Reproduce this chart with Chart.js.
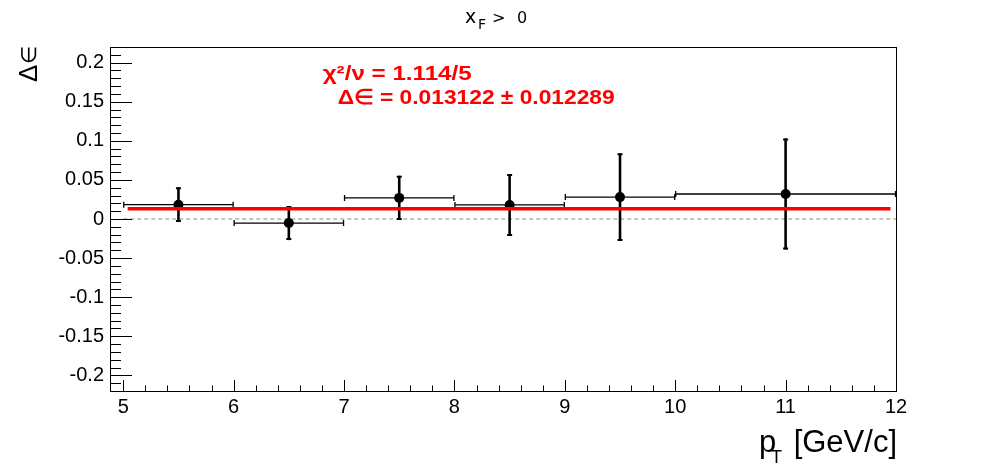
<!DOCTYPE html>
<html><head><meta charset="utf-8">
<script src="https://cdn.jsdelivr.net/npm/chart.js@4/dist/chart.umd.min.js"></script>
<style>html,body{margin:0;padding:0;background:#fff;} #wrap{width:996px;height:472px;}</style>
</head><body><div id="wrap"><canvas id="c" width="996" height="472"></canvas></div>
<script>
// ---- data ----
const binCenters = [5.5, 6.5, 7.5, 8.5, 9.5, 11];
const binLow = [5, 6, 7, 8, 9, 10];
const binHigh = [6, 7, 8, 9, 10, 12];
const deltaEps = [0.0183, -0.0052, 0.027, 0.018, 0.028, 0.032];
const deltaEpsErr = [0.0222, 0.0218, 0.0283, 0.0396, 0.056, 0.071];
const fitValue = 0.013122;
const fitError = 0.012289;
const chi2 = 1.114;
const ndf = 5;
const fitRange = [5.04, 11.95];
const zeroRange = [5, 12];
const xTicks = [5, 6, 7, 8, 9, 10, 11, 12];
const yTicks = [-0.2, -0.15, -0.1, -0.05, 0, 0.05, 0.1, 0.15, 0.2];
const xRange = [4.88, 12];
const yRange = [-0.22, 0.22];

const FONT = "'Liberation Sans', Arial, Helvetica, sans-serif";
const TFONT = "'DejaVu Sans', sans-serif";
Chart.defaults.font.family = FONT;

const errorBars = {
  id: 'errorBars',
  afterDatasetDraw(chart, args) {
    if (args.index !== 2) return;
    const ctx = chart.ctx, xs = chart.scales.x, ys = chart.scales.y;
    ctx.save();
    ctx.strokeStyle = '#000';
    ctx.lineCap = 'butt';
    for (let i = 0; i < binCenters.length; i++) {
      const px = xs.getPixelForValue(binCenters[i]);
      const py = ys.getPixelForValue(deltaEps[i]);
      const xl = xs.getPixelForValue(binLow[i]);
      const xh = xs.getPixelForValue(binHigh[i]);
      const yt = ys.getPixelForValue(deltaEps[i] + deltaEpsErr[i]);
      const yb = ys.getPixelForValue(deltaEps[i] - deltaEpsErr[i]);
      ctx.lineWidth = 1.3;
      ctx.beginPath();
      ctx.moveTo(xl, py); ctx.lineTo(xh, py);
      ctx.moveTo(xl + 0.5, py - 3); ctx.lineTo(xl + 0.5, py + 3);
      ctx.moveTo(xh - 0.5, py - 3); ctx.lineTo(xh - 0.5, py + 3);
      ctx.stroke();
      ctx.lineWidth = 2.6;
      ctx.beginPath();
      ctx.moveTo(px, yt); ctx.lineTo(px, yb);
      ctx.stroke();
      ctx.lineWidth = 2;
      ctx.beginPath();
      ctx.moveTo(px - 2.5, yt + 1); ctx.lineTo(px + 2.5, yt + 1);
      ctx.moveTo(px - 2.5, yb - 1); ctx.lineTo(px + 2.5, yb - 1);
      ctx.stroke();
    }
    ctx.restore();
  }
};

function fitText(ctx, text, x, y, width) {
  const w = ctx.measureText(text).width;
  ctx.save();
  ctx.translate(x, y);
  ctx.scale(width / w, 1);
  ctx.fillText(text, 0, 0);
  ctx.restore();
}

const frame = {
  id: 'frame',
  afterDraw(chart) {
    const ctx = chart.ctx, a = chart.chartArea, xs = chart.scales.x, ys = chart.scales.y;
    ctx.save();
    ctx.strokeStyle = '#000';
    ctx.lineWidth = 1;
    ctx.strokeRect(Math.round(a.left) + 0.5, Math.round(a.top) + 0.5,
                   Math.round(a.right - a.left), Math.round(a.bottom - a.top));
    ctx.beginPath();
    for (let k = Math.ceil(xRange[0] * 5); k <= Math.floor(xRange[1] * 5); k++) {
      const v = k / 5;
      const px = Math.round(xs.getPixelForValue(v)) + 0.5;
      const major = (k % 5 === 0);
      const len = major ? 11 : 5.5;
      ctx.moveTo(px, a.bottom); ctx.lineTo(px, a.bottom - len);
    }
    for (let k = Math.ceil(yRange[0] * 100 - 1e-6); k <= Math.floor(yRange[1] * 100 + 1e-6); k++) {
      const v = k / 100;
      const py = Math.round(ys.getPixelForValue(v)) + 0.5;
      const major = (k % 5 === 0);
      const len = major ? 22 : 11;
      ctx.moveTo(a.left, py); ctx.lineTo(a.left + len, py);
    }
    ctx.stroke();

    ctx.fillStyle = '#000';
    ctx.textBaseline = 'alphabetic';
    // title x_F > 0
    ctx.textAlign = 'left';
    ctx.font = '19px ' + TFONT;
    ctx.fillText('x', 465, 23);
    ctx.font = '14px ' + TFONT;
    ctx.fillText('F', 478, 29);
    ctx.font = '16px ' + TFONT;
    ctx.fillText('>', 492, 23);
    ctx.fillText('0', 517, 23);

    // x axis title
    ctx.font = '31px ' + FONT;
    ctx.fillText('p', 759, 452);
    ctx.font = '18px ' + FONT;
    ctx.fillText('T', 771, 463);
    ctx.font = '31px ' + FONT;
    ctx.textAlign = 'right';
    ctx.fillText('[GeV/c]', 897, 452);

    // y axis title
    ctx.save();
    ctx.translate(37, 82);
    ctx.rotate(-Math.PI / 2);
    ctx.textAlign = 'left';
    ctx.font = '26px ' + FONT;
    ctx.fillText('Δ', 0, 0);
    const dw = ctx.measureText('Δ').width;
    ctx.font = '21px ' + FONT;
    ctx.fillText('∈', dw + 1, -1);
    ctx.restore();

    // fit text
    ctx.fillStyle = '#ff0000';
    ctx.textAlign = 'left';
    ctx.font = 'bold 21px ' + FONT;
    fitText(ctx, 'χ²/ν = ' + chi2.toFixed(3) + '/' + ndf, 322.7, 80, 149);
    fitText(ctx, 'Δ∈ = ' + fitValue.toFixed(6) + ' ± ' + fitError.toFixed(6), 337.7, 104, 277);
    ctx.restore();
  }
};

new Chart(document.getElementById('c'), {
  type: 'scatter',
  data: {
    datasets: [
      { label: 'fit', type: 'line', data: fitRange.map(x => ({ x, y: fitValue })),
        borderColor: '#ff0000', borderWidth: 3.5, pointRadius: 0, fill: false, order: 0 },
      { label: 'zero', type: 'line', data: zeroRange.map(x => ({ x, y: 0 })),
        borderColor: '#c4c4c4', borderWidth: 2, borderDash: [4, 3], pointRadius: 0, fill: false, order: 2 },
      { label: 'data', data: binCenters.map((x, i) => ({ x, y: deltaEps[i] })),
        pointRadius: 5, pointBackgroundColor: '#000', pointBorderColor: '#000', pointBorderWidth: 0, order: 1 }
    ]
  },
  options: {
    responsive: false,
    devicePixelRatio: 1,
    animation: false,
    layout: { padding: { left: 0, top: 47, right: 100, bottom: 0 } },
    plugins: { legend: { display: false }, tooltip: { enabled: false }, title: { display: false } },
    scales: {
      x: {
        type: 'linear', min: xRange[0], max: xRange[1],
        afterBuildTicks: s => { s.ticks = xTicks.map(v => ({ value: v })); },
        afterFit: s => { s.height = 81; },
        grid: { display: false, drawTicks: false }, border: { display: false },
        ticks: { color: '#000', font: { size: 20 }, padding: 4, maxRotation: 0, autoSkip: false,
                 callback: v => String(v) }
      },
      y: {
        type: 'linear', min: yRange[0], max: yRange[1],
        afterBuildTicks: s => { s.ticks = yTicks.map(v => ({ value: v })); },
        afterFit: s => { s.width = 110; },
        grid: { display: false, drawTicks: false }, border: { display: false },
        ticks: { color: '#000', font: { size: 20 }, padding: 6, autoSkip: false,
                 callback: v => String(v) }
      }
    }
  },
  plugins: [errorBars, frame]
});
</script>
</body></html>
